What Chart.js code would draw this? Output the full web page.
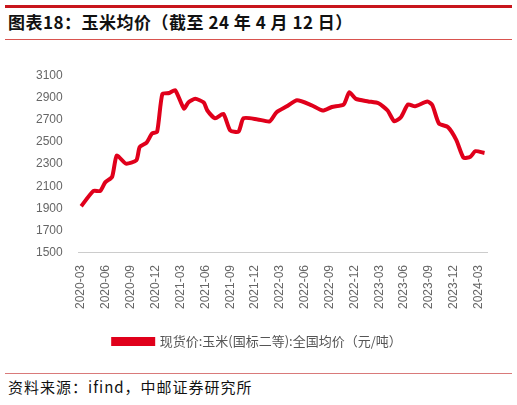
<!DOCTYPE html><html><head><meta charset="utf-8">
<script src="https://cdn.jsdelivr.net/npm/chart.js@4"></script>
<style>
body{margin:0;width:517px;height:405px;background:#fff;position:relative;overflow:hidden;font-family:"Noto Sans CJK SC",sans-serif}
#top{position:absolute;left:5px;top:5px;width:507px;height:3px;background:#c8161d}
#title{position:absolute;left:8px;top:9px;font-size:17px;font-weight:bold;color:#111;letter-spacing:0.5px}
#l1{position:absolute;left:5px;top:39px;width:507px;height:1px;background:#d9534f}
#l2{position:absolute;left:5px;top:373px;width:507px;height:1px;background:#d97a7a}
#src{position:absolute;left:8px;top:376px;font-size:15px;color:#111;font-family:"Noto Sans CJK SC";letter-spacing:1px}
#c{position:absolute;left:0;top:60px}
</style></head><body>
<div id="top"></div><div id="title">图表18：玉米均价（截至 24 年 4 月 12 日）</div><div id="l1"></div>
<canvas id="c" width="517" height="310"></canvas>
<div id="l2"></div><div id="src">资料来源：ifind，中邮证券研究所</div>
<script>
const dates=["2020-03-01","2020-04-15","2020-05-10","2020-05-28","2020-06-23","2020-07-10","2020-08-13","2020-09-21","2020-10-03","2020-10-28","2020-11-18","2020-12-06","2020-12-25","2021-01-20","2021-02-12","2021-03-13","2021-03-29","2021-04-24","2021-05-25","2021-06-08","2021-07-06","2021-08-06","2021-09-01","2021-10-01","2021-10-19","2021-12-10","2022-01-24","2022-02-18","2022-03-26","2022-05-03","2022-06-24","2022-08-06","2022-09-09","2022-10-22","2022-11-12","2022-12-06","2023-01-21","2023-02-28","2023-04-01","2023-04-25","2023-05-19","2023-06-15","2023-07-10","2023-08-25","2023-09-13","2023-10-07","2023-11-10","2023-12-10","2024-01-06","2024-02-01","2024-02-19","2024-03-22"];
const prices=[1920,2058,2058,2135,2185,2377,2304,2334,2453,2493,2576,2590,2931,2940,2964,2800,2854,2887,2854,2782,2712,2752,2602,2592,2712,2702,2685,2765,2820,2874,2831,2782,2814,2837,2947,2887,2864,2847,2782,2685,2722,2837,2820,2864,2831,2665,2632,2516,2357,2366,2416,2400];
const tickLabels=["2020-03","2020-06","2020-09","2020-12","2021-03","2021-06","2021-09","2021-12","2022-03","2022-06","2022-09","2022-12","2023-03","2023-06","2023-09","2023-12","2024-03"];
const seriesName="现货价:玉米(国标二等):全国均价（元/吨）";
function idx(s){const [y,m,d]=s.split("-").map(Number);return (y-2020)*12+(m-3)+(d-1)/30;}
const pts=dates.map((d,i)=>({x:idx(d),y:prices[i]}));
new Chart(document.getElementById('c'),{type:'line',
data:{datasets:[{label:seriesName,data:pts,borderColor:'#e0001b',backgroundColor:'#e0001b',borderWidth:4,pointRadius:0,tension:0.2}]},
options:{responsive:false,animation:false,devicePixelRatio:1,
layout:{padding:{left:28,right:30,top:10,bottom:12}},
plugins:{legend:{position:'bottom',labels:{boxWidth:40,boxHeight:5,color:'#555',font:{size:13,family:'Noto Sans CJK SC'},padding:22}},tooltip:{enabled:false}},
scales:{x:{type:'linear',min:-0.3,max:49,grid:{display:false},border:{color:'#ccc'},
afterBuildTicks:a=>{a.ticks=tickLabels.map((t,i)=>({value:i*3}));},
ticks:{autoSkip:false,maxRotation:90,minRotation:90,padding:4,color:'#666',font:{size:12,family:'Liberation Sans'},callback:(v)=>tickLabels[Math.round(v/3)]}},
y:{min:1500,max:3100,grid:{display:false},border:{display:false},ticks:{stepSize:200,padding:8,color:'#666',font:{size:12,family:'Liberation Sans'},callback:v=>String(v)}}}}});
</script></body></html>
